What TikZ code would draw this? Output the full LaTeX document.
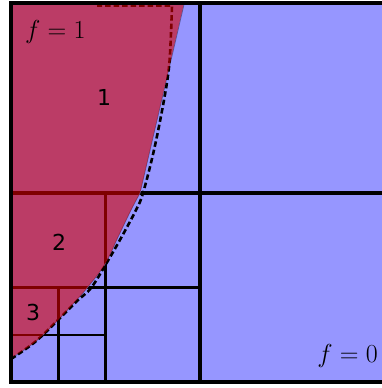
\RequirePackage{fix-cm}
\documentclass[tikz,border=0pt]{standalone}
\usepackage{fontspec}
\newfontfamily\djv{DejaVu Sans}
\definecolor{bluefill}{RGB}{150,150,255}
\definecolor{redfill}{RGB}{213,0,0}
\definecolor{edgecol}{RGB}{90,90,160}
\tikzset{
  lvlone/.style={line width=3.5pt},
  lvltwo/.style={line width=3pt},
  lvlthree/.style={line width=2.6pt},
  truecurve/.style={line width=2.6pt, dash pattern=on 5.5pt off 3pt},
  cellnum/.style={font=\djv\fontsize{22}{22}\selectfont, inner sep=0pt},
  flabel/.style={font=\fontsize{26}{30}\selectfont, inner sep=0pt, anchor=base west},
}
\begin{document}
\begin{tikzpicture}[x=1pt,y=-1pt]
\useasboundingbox (0,0) rectangle (382,388);
\clip (0,0) rectangle (382,388);
% background
\fill[bluefill] (10.5,3) rectangle (389.5,382);
% grid
\draw[lvlone] (200,3) -- (200,382);
\draw[lvlone] (10.5,193) -- (389.5,193);
\draw[lvltwo] (105.6,193) -- (105.6,382);
\draw[lvltwo] (10.5,287.6) -- (200,287.6);
\draw[lvlthree] (58.3,287.6) -- (58.3,382);
\draw[lvlthree] (10.5,335) -- (105.6,335);
% edge of the approximated region
\draw[edgecol, line width=0.8pt] (184,4.5) -- (140,193)
  -- plot[smooth, tension=0.6] coordinates {(140,193) (131,210) (118,237) (105,264) (87,288) (72,305) (58,320) (35,342) (12,358)};
% exact boundary (dashed)
\draw[truecurve] plot[smooth, tension=0.6] coordinates {(11,359) (35,342) (58,320) (77,301) (91,288) (106,264) (121,238) (136,210) (143,193) (154,150) (164,100) (169,67) (171,33) (172,5.5)} -- (97,5.5);
% approximated region
\fill[redfill, fill opacity=0.6] (10.5,3) -- (184,3) -- (140,193)
  -- plot[smooth, tension=0.6] coordinates {(140,193) (131,210) (118,237) (105,264) (87,288) (72,305) (58,320) (35,342) (10.5,358)} -- cycle;
% outer border
\draw[line width=4pt] (10.5,3) rectangle (389.5,382);
% labels
\node[cellnum] (c1) at (104,97) {1};
\node[cellnum] (c2) at (59,242) {2};
\node[cellnum] (c3) at (33,312) {3};
\node[flabel] (fone) at (25,38) {$f=1$};
\node[flabel, anchor=base east] (fzero) at (378,362) {$f=0$};
\end{tikzpicture}
\end{document}
